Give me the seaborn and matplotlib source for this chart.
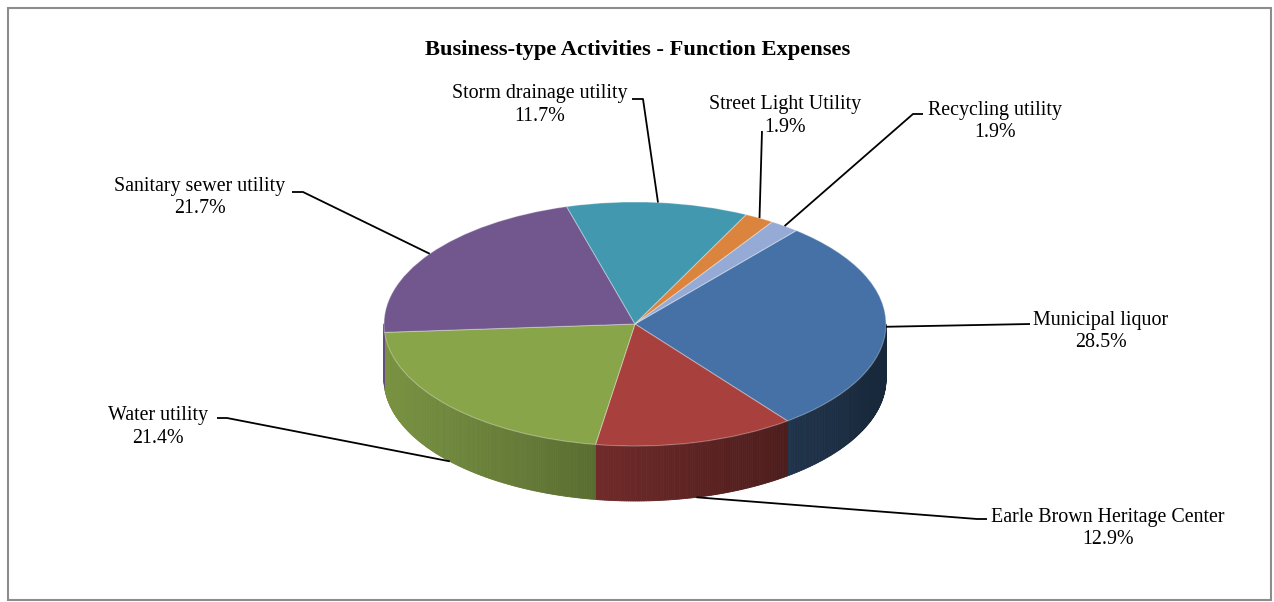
import numpy as np
import matplotlib
matplotlib.use("Agg")
import matplotlib.pyplot as plt
import matplotlib.colors as mcolors
from matplotlib.collections import PolyCollection
from matplotlib.patches import Rectangle
import seaborn as sns

# ---- data -------------------------------------------------------------
categories = ["Municipal liquor", "Earle Brown Heritage Center", "Water utility",
              "Sanitary sewer utility", "Storm drainage utility",
              "Street Light Utility", "Recycling utility"]
shares = [28.5, 12.9, 21.4, 21.7, 11.7, 1.9, 1.9]
slice_colors = ["#4571A6", "#A8403E", "#88A54A", "#71578E",
                "#4298AE", "#DB843D", "#95ABD6"]
chart_title = "Business-type Activities - Function Expenses"

# ---- layout (pixels) --------------------------------------------------
W, H = 1274, 602
CX, CY, RX, RY, DEPTH = 635, 324, 251, 122, 55

# label centre x, first-line baseline y, second-line baseline y
label_pos = [(1101, 325, 347), (1108, 522, 544), (158, 420, 443),
             (200, 191, 213), (540, 98, 121), (785, 109, 132), (995, 115, 137)]
# leader-line bend points, from pie outward
leader_bends = [[(1030, 324)],
                [(977, 519), (987, 519)],
                [(227, 418), (217, 418)],
                [(303, 192), (292, 192)],
                [(643, 99), (632, 99)],
                [(762, 131)],
                [(913, 114), (923, 114)]]

sns.set_theme(style="white")
plt.rcParams["font.family"] = ["Liberation Serif", "DejaVu Serif"]

fig = plt.figure(figsize=(W / 100, H / 100), dpi=100)
ax = fig.add_axes([0, 0, 1, 1])


def px(x, y):
    """pixel position -> data coordinates of the flattened pie"""
    return (x - CX) / RX, (CY - y) / RY


depth = DEPTH / RY

# top face
wedges, _ = ax.pie(shares, colors=slice_colors, startangle=50, counterclock=False,
                   radius=1,
                   wedgeprops=dict(edgecolor=(1, 1, 1, 0.3), linewidth=0.8, zorder=3))
ax.set_aspect("auto")
ax.set_xlim(-CX / RX, (W - CX) / RX)
ax.set_ylim(-(H - CY) / RY, CY / RY)
ax.axis("off")

# side wall of the front half, shaded darker towards the right
polys, fcs = [], []
for w, c in zip(wedges, slice_colors):
    t = np.linspace(w.theta1, w.theta2, max(int(abs(w.theta2 - w.theta1) * 2), 2) + 1)
    base = np.array(mcolors.to_rgb(c))
    for a0, a1 in zip(t[:-1], t[1:]):
        mid = ((a0 + a1) / 2) % 360
        if mid < 180:
            continue
        r0, r1 = np.deg2rad(a0), np.deg2rad(a1)
        quad = [(np.cos(r0), np.sin(r0)), (np.cos(r1), np.sin(r1)),
                (np.cos(r1), np.sin(r1) - depth), (np.cos(r0), np.sin(r0) - depth)]
        f = 0.62 - 0.27 * np.cos(np.deg2rad(mid))
        col = np.clip(base * f, 0, 1)
        polys.append(quad)
        fcs.append(col)
ax.add_collection(PolyCollection(polys, facecolors=fcs, edgecolors=fcs,
                                 linewidths=0.6, zorder=1))

# labels and leader lines
for w, name, v, (lx, y1, y2), bends in zip(wedges, categories, shares,
                                            label_pos, leader_bends):
    mid = np.deg2rad((w.theta1 + w.theta2) / 2)
    ax_, ay_ = np.cos(mid), np.sin(mid)
    if ay_ < -0.3:
        # front slices: leader starts at the lower rim of the side wall
        ay_ -= depth
    pts = [(ax_, ay_)] + [px(*b) for b in bends]
    xs, ys = zip(*pts)
    ax.plot(xs, ys, color="black", lw=1.3, zorder=4, solid_capstyle="butt")
    ax.text(*px(lx, y1), name, ha="center", va="baseline", fontsize=14.4,
            color="black", zorder=5)
    ax.text(*px(lx, y2), f"{v:.1f}%", ha="center", va="baseline", fontsize=14.4,
            color="black", zorder=5)

# title and chart border
fig.text(638 / W, 1 - 55 / H, chart_title, ha="center", va="baseline",
         fontsize=16.2, fontweight="bold", color="black")
fig.add_artist(Rectangle((8 / W, (H - 600) / H), (1271 - 8) / W, (600 - 8) / H,
                         transform=fig.transFigure, fill=False,
                         edgecolor="#8C8C8C", linewidth=1.5))

fig.savefig("out.png", dpi=100, facecolor="white")
